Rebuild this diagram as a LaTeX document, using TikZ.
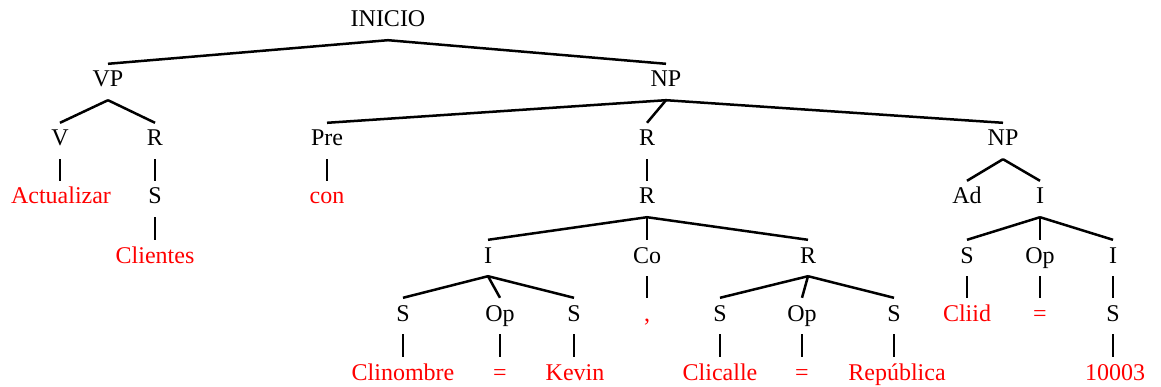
\documentclass[tikz,border=0pt]{standalone}
\usepackage{fontspec}
\setmainfont{Liberation Serif}
\begin{document}
\begin{tikzpicture}[x=1pt,y=-1pt,
  lbl/.style={anchor=base,inner sep=0pt,text height=23pt,text depth=13pt,
    font=\fontsize{24}{28}\selectfont},
  cat/.style={lbl,text=black},
  word/.style={lbl,text=red},
  branch/.style={line width=2.5pt}]
\useasboundingbox (0,0) rectangle (1161,387);

% level 0-1
\node[cat] (inicio) at (388,27) {INICIO};
\node[cat] (vp) at (108,87) {VP};
\node[cat] (np) at (666,87) {NP};
% level 2
\node[cat] (v) at (60,146) {V};
\node[cat] (r1) at (155,146) {R};
\node[cat] (pre) at (327,146) {Pre};
\node[cat] (r2) at (647,146) {R};
\node[cat] (np2) at (1003,146) {NP};
% level 3
\node[word] (actualizar) at (61,204) {Actualizar};
\node[cat] (s1) at (155,204) {S};
\node[word] (con) at (327,204) {con};
\node[cat] (r3) at (647,204) {R};
\node[cat] (ad) at (967,204) {Ad};
\node[cat] (i1) at (1040,204) {I};
% level 4
\node[word] (clientes) at (155,263) {Clientes};
\node[cat] (i2) at (488,263) {I};
\node[cat] (co) at (647,263) {Co};
\node[cat] (r4) at (808,263) {R};
\node[cat] (s2) at (967,263) {S};
\node[cat] (op1) at (1040,263) {Op};
\node[cat] (i3) at (1113,263) {I};
% level 5
\node[cat] (s3) at (403,321) {S};
\node[cat] (op2) at (500,321) {Op};
\node[cat] (s4) at (574,321) {S};
\node[word] (comma) at (647,321) {,};
\node[cat] (s5) at (720,321) {S};
\node[cat] (op3) at (802,321) {Op};
\node[cat] (s6) at (894,321) {S};
\node[word] (cliid) at (967,321) {Cliid};
\node[word] (eq1) at (1040,321) {=};
\node[cat] (s7) at (1113,321) {S};
% level 6
\node[word] (clinombre) at (403,380) {Clinombre};
\node[word] (eq2) at (500,380) {=};
\node[word] (kevin) at (575,380) {Kevin};
\node[word] (clicalle) at (720,380) {Clicalle};
\node[word] (eq3) at (802,380) {=};
\node[word] (republica) at (897,380) {República};
\node[word] (n10003) at (1115,380) {10003};

% branches
\begin{scope}[branch]
\draw (inicio.south) -- (vp.north);
\draw (inicio.south) -- (np.north);
\draw (vp.south) -- (v.north);
\draw (vp.south) -- (r1.north);
\draw (np.south) -- (pre.north);
\draw (np.south) -- (r2.north);
\draw (np.south) -- (np2.north);
\draw (v.south) -- (v.south |- actualizar.north);
\draw (r1.south) -- (s1.north);
\draw (pre.south) -- (con.north);
\draw (r2.south) -- (r3.north);
\draw (np2.south) -- (ad.north);
\draw (np2.south) -- (i1.north);
\draw (s1.south) -- (clientes.north);
\draw (r3.south) -- (i2.north);
\draw (r3.south) -- (co.north);
\draw (r3.south) -- (r4.north);
\draw (i1.south) -- (s2.north);
\draw (i1.south) -- (op1.north);
\draw (i1.south) -- (i3.north);
\draw (i2.south) -- (s3.north);
\draw (i2.south) -- (op2.north);
\draw (i2.south) -- (s4.north);
\draw (co.south) -- (comma.north);
\draw (r4.south) -- (s5.north);
\draw (r4.south) -- (op3.north);
\draw (r4.south) -- (s6.north);
\draw (s2.south) -- (cliid.north);
\draw (op1.south) -- (eq1.north);
\draw (i3.south) -- (s7.north);
\draw (s3.south) -- (clinombre.north);
\draw (op2.south) -- (eq2.north);
\draw (s4.south) -- (s4.south |- kevin.north);
\draw (s5.south) -- (s5.south |- clicalle.north);
\draw (op3.south) -- (eq3.north);
\draw (s6.south) -- (s6.south |- republica.north);
\draw (s7.south) -- (s7.south |- n10003.north);
\end{scope}
\end{tikzpicture}
\end{document}
